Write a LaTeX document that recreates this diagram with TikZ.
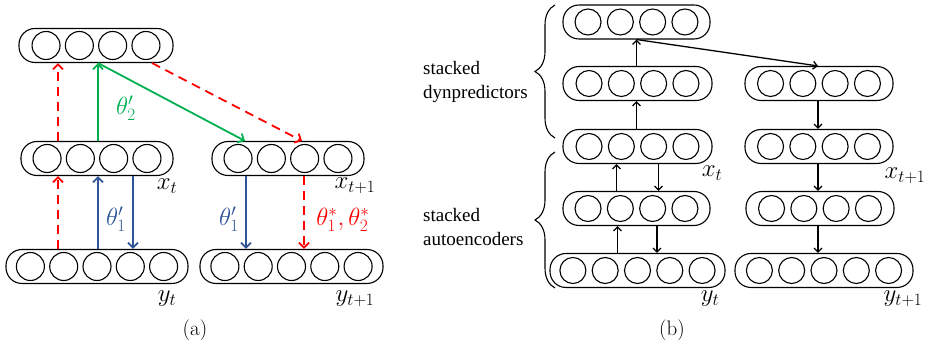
\documentclass[tikz,border=0pt]{standalone}
\usepackage{fontspec}
\setmainfont{Liberation Serif}
\newfontfamily\capfont{Latin Modern Roman}
\usetikzlibrary{arrows.meta,decorations.pathreplacing,calc}

\definecolor{arrred}{RGB}{255,0,0}
\definecolor{arrgreen}{RGB}{0,176,80}
\definecolor{arrblue}{RGB}{47,85,151}

\tikzset{
  unit/.style={circle, draw, line width=1.1pt, inner sep=0pt},
  layer/.style={draw, line width=1.1pt, rounded corners=16pt, inner sep=0pt, minimum height=34pt},
  redlink/.style={arrred, line width=1.8pt, dash pattern=on 9pt off 6pt, -{Straight Barb[length=5pt,width=10pt]}},
  greenlink/.style={arrgreen, line width=1.8pt, -{Straight Barb[length=5pt,width=10pt]}},
  bluelink/.style={arrblue, line width=1.8pt, -{Straight Barb[length=5pt,width=10pt]}},
  blacklink/.style={black, line width=1.3pt, -{Straight Barb[length=4pt,width=8pt]}},
  mathlabel/.style={inner sep=0pt, font=\fontsize{23}{27}\selectfont},
  sublabel/.style={inner sep=0pt, font=\capfont\fontsize{21}{25}\selectfont},
  sidetext/.style={inner sep=0pt, align=left, font=\rmfamily\fontsize{19}{24}\selectfont},
  groupbrace/.style={decorate, decoration={brace, amplitude=20pt}, line width=1.1pt},
}

% \layerrow{name}{cx}{cy}{units}{width}{spacing}{unit diameter}
\newcommand\layerrow[7]{%
  \node[layer, minimum width=#5pt] (#1) at (#2,#3) {};
  \foreach \k in {1,...,#4}{
    \node[unit, minimum size=#7pt] (#1-\k) at ($(#1.center)+({(\k-(#4+1)/2)*#6},0)$) {};
  }
}

\begin{document}
\begin{tikzpicture}[x=1pt, y=-1pt]
\useasboundingbox (0,0) rectangle (930,352);

% ---------------- (a) ----------------
\layerrow{aTop}{96}{45.5}{4}{154}{33.3}{28}
\layerrow{aML}{97}{158.5}{4}{152}{33.3}{28}
\layerrow{aMR}{288}{158.5}{4}{152}{33.3}{28}
\layerrow{aYL}{97}{266.5}{5}{182}{33.3}{28}
\layerrow{aYR}{291.5}{266.5}{5}{183}{33.3}{28}

% dynamics layer
\draw[redlink] ([xshift=-39]aML.north) -- ([xshift=-39]aML.north |- aTop.south);
\draw[greenlink] ([xshift=1]aML.north) -- ([xshift=1]aML.north |- aTop.south);
\draw[greenlink] ([xshift=2]aTop.south) -- ([xshift=-43]aMR.north);
\draw[redlink] ([xshift=56]aTop.south) -- ([xshift=14]aMR.north);

% autoencoder layer, time t
\draw[redlink] ([xshift=-39]aYL.north) -- ([xshift=-39]aYL.north |- aML.south);
\draw[bluelink] ([xshift=1]aYL.north) -- ([xshift=1]aYL.north |- aML.south);
\draw[bluelink] ([xshift=36]aML.south) -- ([xshift=36]aML.south |- aYL.north);

% autoencoder layer, time t+1
\draw[bluelink] ([xshift=-42]aMR.south) -- ([xshift=-42]aMR.south |- aYR.north);
\draw[redlink] ([xshift=16]aMR.south) -- ([xshift=16]aMR.south |- aYR.north);

\node[mathlabel, arrgreen] (th2a) at (126,108) {$\theta_2'$};
\node[mathlabel, arrblue] (th1a) at (116,219) {$\theta_1'$};
\node[mathlabel, arrblue] (th1b) at (229,219) {$\theta_1'$};
\node[mathlabel, arrred] (thstar) at (343,220) {$\theta_1^*,\theta_2^*$};

\node[mathlabel] (xta) at (167,186) {$x_t$};
\node[mathlabel] (xt1a) at (355,186) {$x_{t+1}$};
\node[mathlabel] (yta) at (167,299) {$y_t$};
\node[mathlabel] (yt1a) at (355,299) {$y_{t+1}$};
\node[sublabel] (capa) at (195,330) {(a)};

% ---------------- (b) ----------------
\layerrow{bTop}{636.5}{22}{4}{147}{32.3}{26}
\layerrow{bL2}{637.5}{83.5}{4}{149}{32.3}{26}
\layerrow{bR2}{819}{83.5}{4}{148}{32.3}{26}
\layerrow{bL3}{637.5}{146.5}{4}{149}{32.3}{26}
\layerrow{bR3}{819}{146.5}{4}{148}{32.3}{26}
\layerrow{bL4}{636.5}{208.5}{4}{147}{32.3}{26}
\layerrow{bR4}{820}{208.5}{4}{148}{32.3}{26}
\layerrow{bL5}{637.5}{270.5}{5}{175}{32.3}{26}
\layerrow{bR5}{824}{270.5}{5}{178}{32.3}{26}

\draw[blacklink] ([xshift=-1]bL2.north) -- ([xshift=-1]bL2.north |- bTop.south);
\draw[blacklink] (bTop.south) -- ([xshift=-1]bR2.north);
\draw[blacklink] ([xshift=-1]bL3.north) -- ([xshift=-1]bL3.north |- bL2.south);

\draw[blacklink] ([xshift=-20]bL4.north) -- ([xshift=-20]bL4.north |- bL3.south);
\draw[blacklink] ([xshift=21]bL3.south) -- ([xshift=21]bL3.south |- bL4.north);
\draw[blacklink] ([xshift=-20]bL5.north) -- ([xshift=-20]bL5.north |- bL4.south);
\draw[blacklink] ([xshift=20.5]bL4.south) -- ([xshift=20.5]bL4.south |- bL5.north);

\draw[blacklink] ([xshift=-1]bR2.south) -- ([xshift=-1]bR2.south |- bR3.north);
\draw[blacklink] ([xshift=-1]bR3.south) -- ([xshift=-1]bR3.south |- bR4.north);
\draw[blacklink] ([xshift=-2]bR4.south) -- ([xshift=-2]bR4.south |- bR5.north);

\node[mathlabel] (xtb) at (712,173) {$x_t$};
\node[mathlabel] (xt1b) at (905,176) {$x_{t+1}$};
\node[mathlabel] (ytb) at (710,299) {$y_t$};
\node[mathlabel] (yt1b) at (903,299) {$y_{t+1}$};
\node[sublabel] (capb) at (672,330) {(b)};

% group braces and their captions
\coordinate (dynTop) at (555,5);
\coordinate (dynBot) at (555,138);
\coordinate (aeTop) at (555,152);
\coordinate (aeBot) at (555,288);
\draw[groupbrace] (dynBot) -- (dynTop);
\draw[groupbrace] (aeBot) -- (aeTop);
\node[sidetext, anchor=west] (dyntext) at (423,82) {stacked\\dynpredictors};
\node[sidetext, anchor=west] (aetext) at (423,227) {stacked\\autoencoders};

\end{tikzpicture}
\end{document}
